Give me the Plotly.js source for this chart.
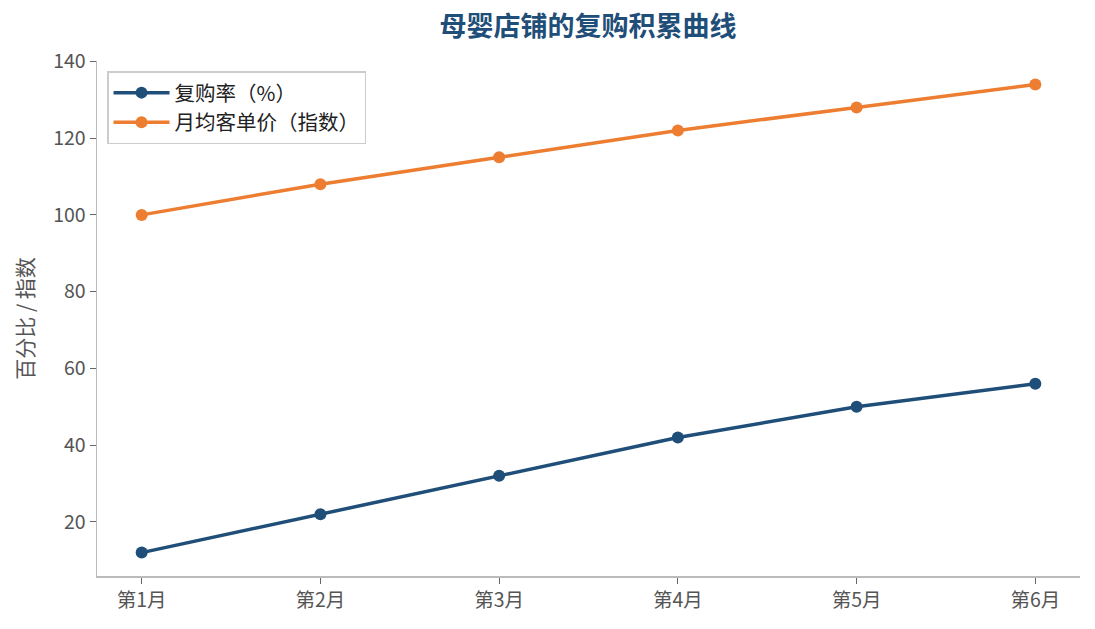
<!DOCTYPE html>
<html>
<head>
<meta charset="utf-8">
<script src="https://cdn.plot.ly/plotly-3.0.1.min.js"></script>
<style>html,body{margin:0;padding:0;background:#fff;}#chart{width:1095px;height:629px;}</style>
</head>
<body>
<div id="chart"></div>
<script>
const months = ["第1月", "第2月", "第3月", "第4月", "第5月", "第6月"];
const repurchaseRate = [12, 22, 32, 42, 50, 56];
const avgPriceIndex = [100, 108, 115, 122, 128, 134];
const seriesNames = ["复购率（%）", "月均客单价（指数）"];
const yTicks = [20, 40, 60, 80, 100, 120, 140];

const FONT = '"Noto Sans CJK SC", "Noto Sans", sans-serif';
const traces = [
  {x: months, y: repurchaseRate, name: seriesNames[0], type: 'scatter', mode: 'lines+markers',
   line: {color: '#1f4e79', width: 3.5}, marker: {color: '#1f4e79', size: 12}},
  {x: months, y: avgPriceIndex, name: seriesNames[1], type: 'scatter', mode: 'lines+markers',
   line: {color: '#ed7d31', width: 3.5}, marker: {color: '#ed7d31', size: 12}}
];
const layout = {
  width: 1095, height: 629,
  margin: {l: 97, r: 15, t: 61, b: 53},
  paper_bgcolor: '#fff', plot_bgcolor: '#fff',
  font: {family: FONT, size: 19, color: '#555'},
  title: {text: '<b>母婴店铺的复购积累曲线</b>', x: 0.537, xanchor: 'center', y: 0.957, yanchor: 'middle',
          font: {family: FONT, size: 27, color: '#1f4e79'}},
  showlegend: true,
  legend: {x: 0.0102, y: 0.98, xanchor: 'left', yanchor: 'top', bgcolor: 'rgba(255,255,255,0.9)',
           bordercolor: '#cccccc', borderwidth: 1.5, itemwidth: 56, tracegroupgap: 4,
           font: {family: FONT, size: 20.5, color: '#222'}},
  xaxis: {type: 'category', range: [-0.25, 5.25], showgrid: false, zeroline: false,
          showline: true, linecolor: '#bbbbbb', linewidth: 1.5, ticks: 'outside', ticklen: 6,
          tickcolor: '#666', tickwidth: 1.2, tickfont: {size: 19.5, color: '#555'}, fixedrange: true},
  yaxis: {range: [5.9, 140.1], tickvals: yTicks, showgrid: false, zeroline: false,
          showline: true, linecolor: '#bbbbbb', linewidth: 1.5, ticks: 'outside', ticklen: 6,
          tickcolor: '#666', tickwidth: 1.2, tickfont: {size: 19.5, color: '#555'},
          title: {text: '百分比 / 指数', standoff: 14, font: {size: 21, color: '#555'}}}
};
Plotly.newPlot('chart', traces, layout, {staticPlot: true, displayModeBar: false});
</script>
</body>
</html>
